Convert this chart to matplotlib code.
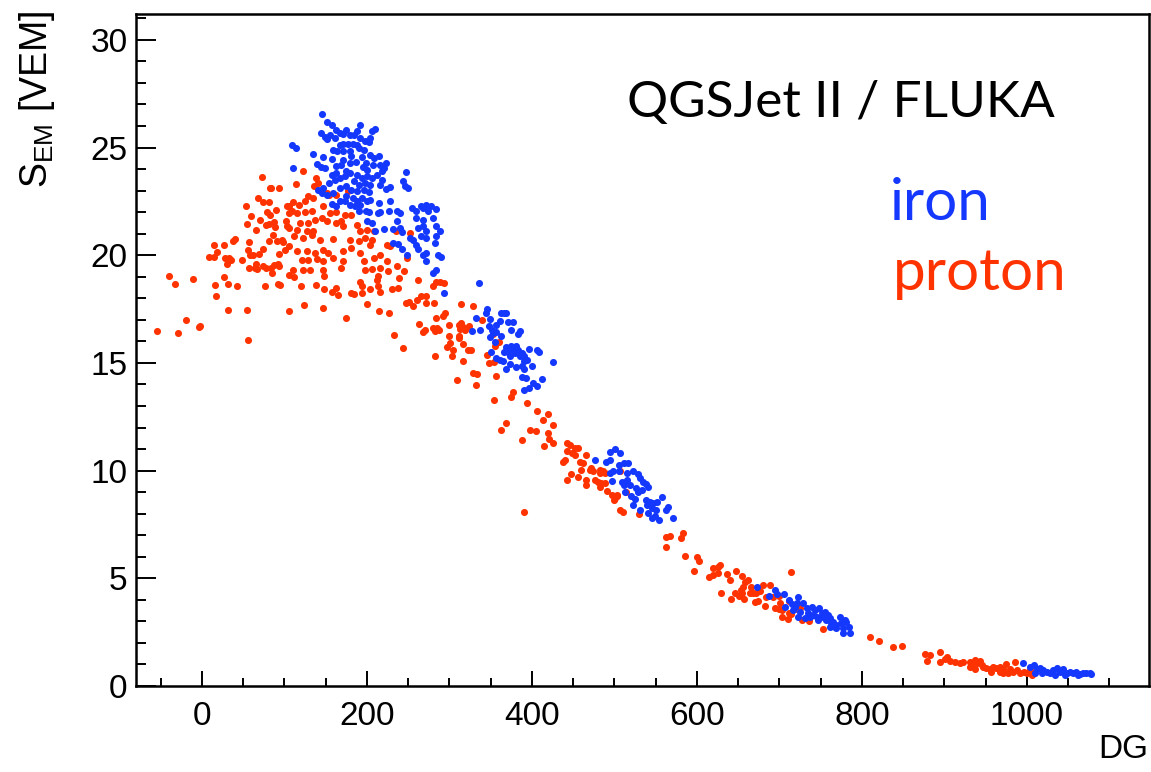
import matplotlib
matplotlib.use('Agg')
import matplotlib.pyplot as plt
from matplotlib.ticker import MultipleLocator

# (DG, S_EM) pairs
proton_points = [
    (-55, 16.46), (-40, 19.03), (-33, 18.66), (-29, 16.41), (-19, 16.97), (-11, 18.89), (-4, 16.66), (-3, 16.7),
    (73, 23.61), (82, 23.13), (84, 23.13), (93, 23.11), (68, 22.68), (74, 22.45), (81, 22.45), (103, 22.29),
    (106, 22.29), (53, 22.29), (60, 21.8), (70, 21.63), (79, 22.0), (83, 21.88), (90, 22.11), (105, 21.98),
    (54, 21.46), (66, 21.15), (78, 21.4), (81, 21.43), (87, 21.52), (89, 21.3), (102, 21.58), (103, 21.35),
    (105, 21.26), (37, 20.64), (40, 20.76), (57, 20.62), (74, 20.31), (81, 20.67), (86, 20.96), (91, 20.64),
    (97, 20.72), (98, 20.62), (105, 20.45), (101, 20.22), (93, 20.05), (15, 20.48), (27, 20.48), (18, 20.13),
    (9, 19.94), (14, 19.94), (28, 19.85), (33, 19.88), (35, 19.79), (30, 19.6), (49, 19.76), (56, 20.25),
    (58, 20.03), (62, 19.99), (69, 20.05), (66, 19.57), (64, 19.4), (74, 19.51), (78, 19.43), (84, 19.4),
    (87, 19.55), (92, 19.6), (93, 19.48), (85, 19.17), (57, 19.4), (67, 19.37), (27, 18.98), (16, 18.63),
    (31, 18.67), (43, 18.59), (76, 18.55), (92, 18.67), (95, 18.63), (105, 19.09), (17, 18.1), (32, 17.46),
    (55, 17.46), (111, 18.98), (120, 18.58), (148, 19.04), (138, 18.64), (148, 18.42), (124, 17.68),
    (147, 17.54), (56, 16.07), (105, 17.42),
    (122, 23.92), (114, 23.31), (138, 23.58), (136, 23.23), (141, 23.35), (151, 22.89), (154, 22.81),
    (163, 22.81), (177, 23.0), (110, 22.47), (117, 22.35), (125, 22.5), (129, 22.73), (135, 22.66),
    (109, 22.07), (115, 21.96), (125, 22.0), (133, 22.07), (147, 22.27), (155, 21.96), (163, 22.0),
    (173, 21.88), (181, 21.88), (119, 21.5), (129, 21.5), (137, 21.65), (145, 21.73), (151, 21.57),
    (163, 21.5), (169, 21.57), (171, 21.34), (188, 21.42), (192, 21.11), (200, 21.19), (208, 21.11),
    (115, 21.19), (127, 21.11), (135, 21.14), (111, 20.88), (123, 20.8), (133, 20.92), (143, 20.72),
    (159, 20.75), (179, 20.72), (190, 20.64), (198, 20.8), (206, 20.72), (224, 20.49), (228, 20.41),
    (235, 21.11), (252, 21.03), (115, 20.18), (127, 20.18), (137, 20.1), (147, 20.26), (153, 20.1),
    (171, 20.18), (181, 20.33), (192, 20.1), (204, 20.49), (216, 20.02), (121, 19.79), (129, 19.79),
    (139, 19.84), (147, 19.71), (159, 19.87), (171, 19.71), (196, 19.71), (208, 19.87), (224, 19.71),
    (110, 19.33), (123, 19.33), (131, 19.33), (147, 19.33), (169, 19.4), (198, 19.33), (206, 19.37),
    (216, 19.4), (226, 19.28), (236, 19.48), (248, 19.87), (245, 19.25),
    (213, 19.02), (158, 18.29), (162, 18.47), (165, 18.16), (181, 18.24), (184, 18.2), (191, 18.74),
    (194, 18.55), (194, 18.24), (204, 18.43), (212, 18.83), (213, 18.58), (216, 18.29), (230, 18.43),
    (238, 18.47), (239, 18.94), (262, 18.83), (284, 18.75), (289, 18.75), (293, 18.71), (280, 18.55),
    (174, 17.08), (200, 17.75), (214, 17.42), (227, 17.31), (247, 17.78), (251, 17.81), (256, 17.65),
    (261, 17.93), (265, 18.12), (272, 18.09), (272, 17.78), (281, 17.78), (284, 17.1), (292, 17.19),
    (295, 17.34), (285, 16.63), (263, 16.83), (270, 16.54), (268, 16.42), (280, 16.62), (282, 16.46),
    (287, 16.51), (299, 16.76), (311, 16.77), (314, 16.85), (317, 16.69), (324, 16.72), (313, 16.57),
    (319, 16.51), (299, 16.26), (301, 15.92), (311, 16.26), (311, 16.14), (316, 15.87), (322, 15.61),
    (326, 15.61), (304, 15.61), (297, 15.72), (303, 15.33), (317, 15.07), (283, 15.33), (233, 16.29),
    (244, 15.69), (314, 17.75), (328, 17.62), (339, 16.97), (353, 16.35), (360, 15.98), (355, 15.77),
    (345, 15.38), (348, 14.99), (354, 15.02), (357, 14.4), (329, 14.53), (333, 14.5), (309, 14.22),
    (332, 13.97), (354, 13.27), (375, 13.44), (377, 13.63), (394, 13.13), (406, 12.79), (419, 12.64),
    (368, 12.2), (362, 11.9), (398, 11.9), (405, 11.82), (413, 12.34), (425, 12.11), (388, 11.43),
    (420, 11.74), (421, 11.48), (426, 11.28), (414, 11.15), (390, 8.09),
    (442, 11.27), (446, 11.19), (452, 11.04), (456, 11.04), (443, 10.89), (448, 10.81), (452, 10.73),
    (440, 10.5), (438, 10.42), (458, 10.42), (462, 10.34), (466, 10.73), (470, 10.03), (472, 10.11),
    (474, 9.96), (460, 10.03), (482, 10.03), (486, 9.96), (482, 9.88), (488, 9.88), (447, 9.85),
    (443, 9.57), (456, 9.69), (465, 9.57), (465, 9.34), (476, 9.57), (480, 9.49), (484, 9.41),
    (488, 9.41), (482, 9.26), (491, 9.07), (497, 8.87), (501, 8.72), (503, 8.8), (503, 8.87),
    (499, 8.64), (507, 8.18), (510, 8.1), (514, 9.03), (530, 7.99), (507, 9.96), (562, 6.91),
    (567, 6.97), (581, 6.86), (583, 7.09),
    (563, 6.47), (586, 6.05), (600, 6.01), (602, 5.82), (597, 5.36), (620, 5.47), (625, 5.54),
    (628, 5.62), (626, 5.26), (615, 5.05), (619, 5.16), (637, 5.2), (647, 5.36), (640, 4.92),
    (629, 4.33), (641, 4.06), (646, 4.33), (651, 4.18), (655, 5.11), (658, 4.85), (662, 4.92),
    (656, 4.61), (654, 4.46), (655, 4.3), (657, 4.03), (664, 4.3), (666, 4.58), (668, 4.33),
    (672, 4.3), (676, 4.43), (670, 3.92), (674, 3.96), (680, 4.69), (689, 4.69), (684, 4.12),
    (683, 3.73), (692, 4.12), (699, 4.18), (695, 3.61), (699, 3.56), (703, 3.53), (701, 3.84),
    (711, 3.96), (703, 3.22), (710, 3.1), (711, 3.41), (714, 3.34), (714, 5.28), (727, 3.07),
    (736, 3.03), (721, 3.56), (725, 3.61), (753, 2.65),
    (810, 2.29), (821, 2.09), (838, 1.83), (849, 1.86), (876, 1.49), (882, 1.44), (879, 1.18),
    (895, 1.56), (895, 1.13), (901, 1.24), (903, 1.36), (907, 1.18), (913, 1.13), (919, 1.05),
    (923, 1.13), (931, 1.13), (933, 0.93), (937, 1.21), (939, 1.05), (943, 1.18), (945, 0.98),
    (931, 0.87), (937, 0.77), (947, 0.9), (951, 0.82), (955, 0.77), (959, 0.87), (963, 0.82),
    (967, 0.9), (971, 0.77), (975, 1.02), (979, 0.77), (983, 0.67), (986, 1.13), (988, 0.74),
    (992, 0.62), (996, 0.67), (1000, 0.59), (1004, 0.74), (1006, 0.51), (967, 0.67), (957, 0.67),
    (977, 0.59), (971, 0.59),
]

iron_points = [
    (146, 26.57), (152, 26.19), (158, 26.06), (163, 25.83), (175, 25.83), (192, 26.03), (206, 25.75),
    (210, 25.88), (144, 25.69), (149, 25.47), (151, 25.4), (155, 25.57), (161, 25.44), (167, 25.67),
    (171, 25.63), (179, 25.57), (184, 25.6), (188, 25.75), (192, 25.44), (198, 25.29), (202, 25.26),
    (204, 25.44), (167, 25.13), (171, 25.16), (177, 25.16), (183, 25.16), (188, 25.13), (159, 24.9),
    (164, 24.82), (171, 24.82), (179, 24.85), (190, 24.98), (196, 24.9), (147, 24.54), (157, 24.48),
    (171, 24.44), (181, 24.59), (194, 24.54), (204, 24.67), (208, 24.51), (214, 24.59), (140, 24.23),
    (144, 24.11), (149, 24.05), (163, 24.13), (169, 24.2), (179, 24.28), (187, 24.33), (199, 24.3),
    (207, 24.2), (216, 24.2), (223, 24.28), (221, 24.05), (218, 23.9), (200, 23.97), (195, 24.08),
    (175, 23.92), (163, 23.82), (158, 23.74), (134, 24.7), (109, 25.13), (114, 24.98), (110, 24.05),
    (161, 23.51), (167, 23.58), (173, 23.66), (179, 23.82), (188, 23.74), (194, 23.58), (200, 23.66),
    (206, 23.58), (212, 23.74), (218, 23.51), (184, 23.43), (190, 23.27), (198, 23.35), (204, 23.27),
    (154, 23.35), (147, 23.12), (141, 23.04), (145, 22.89), (152, 22.81), (159, 22.89), (167, 23.12),
    (175, 23.2), (181, 23.04), (188, 22.97), (196, 23.04), (202, 22.93), (216, 23.27), (223, 23.09),
    (228, 23.15), (244, 23.43), (246, 23.2), (250, 23.12), (247, 23.86), (167, 22.5), (175, 22.73),
    (183, 22.66), (188, 22.5), (192, 22.35), (186, 22.27), (194, 22.66), (200, 22.5), (204, 22.58),
    (215, 22.42), (173, 22.5), (157, 22.38), (163, 22.27), (179, 22.35), (190, 22.07), (199, 22.04),
    (203, 22.0), (213, 21.96), (216, 22.0), (227, 22.04), (237, 22.07), (240, 21.96), (228, 22.5),
    (254, 22.19), (260, 22.04), (265, 22.27), (268, 22.19), (272, 22.35), (274, 22.07), (200, 21.57),
    (206, 21.5), (210, 21.14), (221, 21.23), (232, 21.23), (240, 21.26), (242, 21.08), (236, 21.57),
    (260, 21.73), (268, 21.65), (262, 21.26), (268, 21.34), (272, 21.11), (266, 20.88), (272, 20.8),
    (256, 20.72), (260, 20.49), (262, 20.3), (232, 20.57), (238, 20.52), (242, 20.3), (252, 20.8),
    (248, 20.02), (268, 20.02), (272, 20.1), (272, 19.71),
    (278, 22.3), (284, 22.14), (280, 21.72), (284, 21.34), (288, 21.11), (284, 20.87), (282, 20.56),
    (286, 20.02), (290, 19.94), (284, 19.33), (280, 19.17), (293, 18.24),
    (336, 18.72), (332, 17.08), (337, 16.51), (327, 16.46), (344, 17.31), (346, 17.5), (349, 17.03),
    (348, 16.73), (351, 16.51), (356, 16.77), (353, 16.38), (357, 16.42), (361, 16.93), (363, 17.31),
    (366, 17.31), (369, 17.31), (371, 16.88), (377, 16.88), (374, 16.54), (385, 16.46), (383, 16.35),
    (349, 16.2), (355, 15.95), (362, 16.23), (350, 15.53), (366, 15.53), (369, 15.73), (371, 15.53),
    (375, 15.8), (377, 15.64), (379, 15.46), (381, 15.77), (383, 15.61), (385, 15.33), (388, 15.46),
    (390, 15.3), (394, 15.15), (397, 15.64), (406, 15.61), (408, 15.49), (357, 15.22), (361, 15.15),
    (365, 15.07), (373, 15.3), (373, 14.96), (381, 14.81), (388, 14.87), (390, 15.07), (400, 14.87),
    (368, 14.71), (390, 14.71), (388, 14.34), (393, 14.3), (401, 14.09), (412, 14.25), (390, 13.75),
    (396, 13.83), (406, 13.91), (425, 15.05),
    (495, 10.88), (501, 10.99), (507, 10.81), (476, 10.5), (490, 10.42), (495, 10.47), (505, 10.27),
    (511, 10.34), (517, 10.34), (495, 9.88), (498, 9.96), (506, 9.96), (515, 9.91), (522, 9.96),
    (528, 9.85), (497, 9.54), (509, 9.49), (511, 9.34), (515, 9.57), (519, 9.34), (531, 9.65),
    (534, 9.49), (538, 9.38), (541, 9.26), (526, 9.18), (529, 9.03), (533, 9.1), (513, 9.03),
    (520, 8.8), (525, 8.67), (522, 8.41), (531, 8.18), (538, 8.64), (540, 8.41), (543, 8.56),
    (547, 8.49), (551, 8.56), (545, 8.25), (550, 8.18), (549, 7.87), (554, 7.71), (545, 7.79),
    (541, 8.02), (558, 8.76), (563, 8.18), (565, 8.3), (571, 7.79),
    (673, 4.58), (687, 4.18), (695, 4.46), (697, 4.27), (706, 4.27), (711, 3.99), (707, 3.69),
    (715, 3.81), (717, 3.53), (721, 3.87), (723, 4.12), (719, 3.69), (725, 3.45), (729, 3.84),
    (733, 3.61), (735, 3.41), (739, 3.69), (741, 3.3), (743, 3.53), (745, 3.22), (748, 3.61),
    (751, 3.41), (753, 3.22), (755, 3.45), (757, 3.07), (759, 3.3), (761, 3.14), (763, 2.91),
    (765, 2.99), (767, 2.76), (769, 2.83), (773, 3.22), (775, 2.91), (777, 2.68), (779, 3.07),
    (781, 2.99), (784, 2.73), (777, 2.45), (786, 2.48), (761, 2.76), (769, 2.68), (723, 3.22),
    (731, 3.14), (737, 3.22), (747, 3.07),
    (995, 1.05), (1004, 0.9), (1008, 0.98), (1012, 0.77), (1016, 0.82), (1020, 0.74), (1024, 0.67),
    (1028, 0.59), (1032, 0.74), (1036, 0.82), (1040, 0.67), (1044, 0.77), (1048, 0.59), (1052, 0.67),
    (1056, 0.59), (1060, 0.67), (1064, 0.56), (1068, 0.59), (1072, 0.62), (1076, 0.59), (1078, 0.56),
    (1034, 0.51), (1046, 0.51), (1062, 0.51), (1010, 0.62), (1018, 0.59),
]

red = '#ff3300'
blue = '#1538ff'

plt.rcParams['font.family'] = ['Liberation Sans', 'DejaVu Sans']

fig = plt.figure(figsize=(11.51, 7.72), dpi=100)
ax = fig.add_axes([136 / 1151, 1 - 686 / 772, (1149 - 136) / 1151, (686 - 14) / 772])

pdg, psem = zip(*proton_points)
idg, isem = zip(*iron_points)
ax.scatter(pdg, psem, s=26, c=red, linewidths=0, zorder=2)
ax.scatter(idg, isem, s=26, c=blue, linewidths=0, zorder=3)

ax.set_xlim(-80, 1148)
ax.set_ylim(0, 31.2)
ax.xaxis.set_major_locator(MultipleLocator(200))
ax.xaxis.set_minor_locator(MultipleLocator(50))
ax.yaxis.set_major_locator(MultipleLocator(5))
ax.yaxis.set_minor_locator(MultipleLocator(1))
ax.tick_params(axis='both', which='both', direction='in', top=False, right=False,
               labelsize=24, width=1.4)
ax.tick_params(axis='x', which='major', length=11, pad=11)
ax.tick_params(axis='x', which='minor', length=5.5)
ax.tick_params(axis='y', which='major', length=14.5, pad=6)
ax.tick_params(axis='y', which='minor', length=7.2)
for sp in ax.spines.values():
    sp.set_linewidth(1.8)

fig.text(37 / 1151, 1 - 10 / 772, r'$\mathregular{S_{EM}}$ [VEM]', rotation=90,
         ha='center', va='top', fontsize=27)
fig.text(1148 / 1151, 1 - 750 / 772, 'DG', ha='right', va='center', fontsize=24)

fig.text(627 / 1151, 1 - 117 / 772, 'QGSJet II / FLUKA', family=['Lato', 'DejaVu Sans'],
         fontsize=37, ha='left', va='baseline', color='black')
fig.text(890 / 1151, 1 - 220 / 772, 'iron', family=['Lato', 'DejaVu Sans'],
         fontsize=42, ha='left', va='baseline', color=blue)
fig.text(893 / 1151, 1 - 290 / 772, 'proton', family=['Lato', 'DejaVu Sans'],
         fontsize=42, ha='left', va='baseline', color=red)

fig.savefig('out.png', dpi=100)
